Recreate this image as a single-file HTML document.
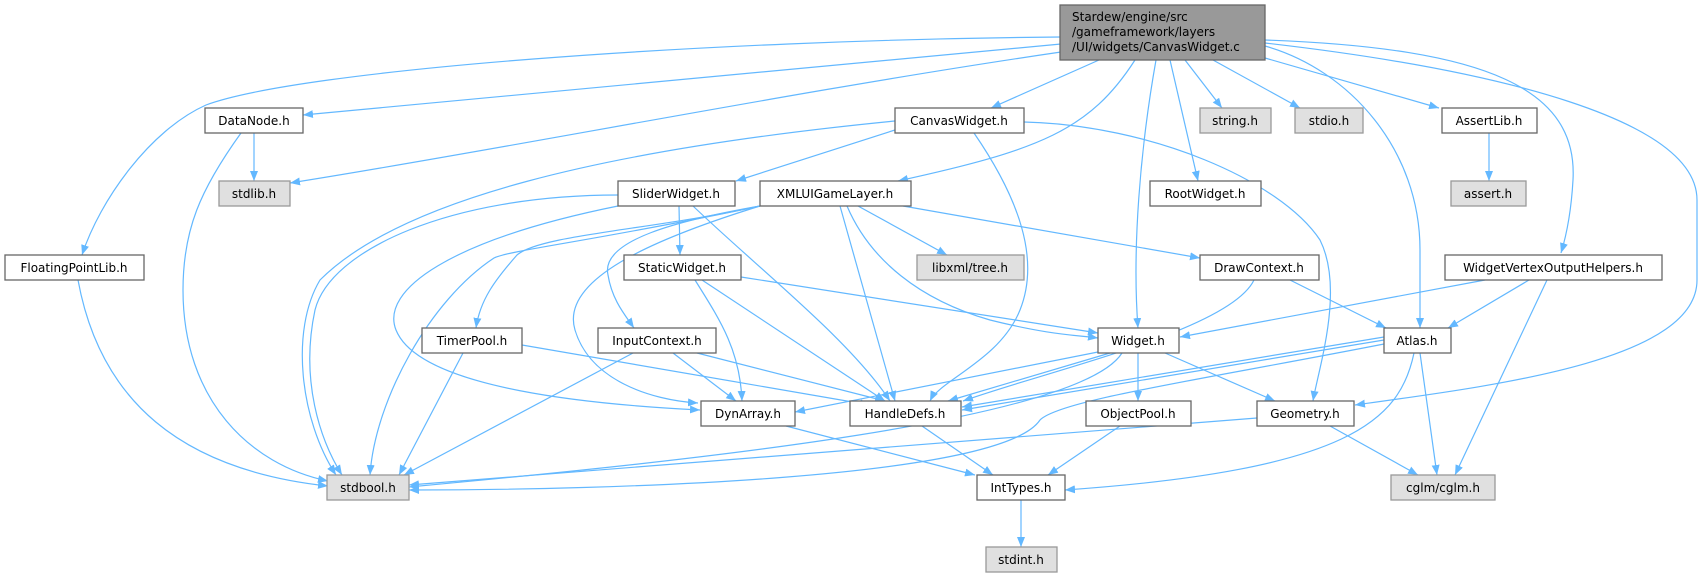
<!DOCTYPE html>
<html><head><meta charset="utf-8"><style>
html,body{margin:0;padding:0;background:#fff;width:1704px;height:579px;overflow:hidden}
svg{display:block}
text{font-family:"DejaVu Sans","Liberation Sans",sans-serif;font-size:12px;fill:#000}
.e{fill:none;stroke:#63b8ff;stroke-width:1.2;marker-end:url(#a)}
.n{fill:#fff;stroke:#666;stroke-width:1.3}
.g{fill:#e0e0e0;stroke:#999;stroke-width:1.3}
</style></head><body>
<svg width="1704" height="579" viewBox="0 0 1704 579" xmlns="http://www.w3.org/2000/svg">
<defs><marker id="a" markerUnits="userSpaceOnUse" markerWidth="11" markerHeight="9" refX="10" refY="4" orient="auto"><path d="M0,0 L10,4 L0,8 z" fill="#63b8ff"/></marker></defs>
<g>
<path class="e" d="M1061,37 C700,40 300,70 206,105 C150,130 100,200 82,255"/>
<path class="e" d="M1061,44 L303,115"/>
<path class="e" d="M1061,52 C800,90 500,150 290,183"/>
<path class="e" d="M1099,60 L991,108"/>
<path class="e" d="M1135,60 C1090,130 1040,150 898,181"/>
<path class="e" d="M1156,60 C1140,150 1132,250 1138,328"/>
<path class="e" d="M1170,60 L1198,181"/>
<path class="e" d="M1185,60 L1222,108"/>
<path class="e" d="M1213,60 L1300,108"/>
<path class="e" d="M1265,58 L1439,108"/>
<path class="e" d="M1265,46 C1350,70 1420,150 1420,250 L1420,328"/>
<path class="e" d="M1265,40 C1490,48 1578,90 1573,180 C1571,215 1565,240 1561,253"/>
<path class="e" d="M1265,43 C1500,70 1697,120 1697,200 L1697,280 C1697,360 1500,385 1355,405"/>
<path class="e" d="M1489,133 L1489,181"/>
<path class="e" d="M254,133 L254,181"/>
<path class="e" d="M241,133 C200,190 183,230 183,290 C183,400 250,465 328,481"/>
<path class="e" d="M78,280 C100,400 180,470 328,486"/>
<path class="e" d="M895,130 L736,181"/>
<path class="e" d="M895,121 C600,150 400,200 320,280 C290,330 300,420 336,475"/>
<path class="e" d="M974,133 C1020,200 1040,260 1020,310 C1000,360 940,380 930,401"/>
<path class="e" d="M1024,122 C1150,125 1280,180 1320,240 C1345,290 1318,370 1313,401"/>
<path class="e" d="M679,206 L680,255"/>
<path class="e" d="M618,195 C450,195 330,250 315,310 C300,380 320,440 342,475"/>
<path class="e" d="M618,206 C450,240 380,290 396,330 C420,390 600,405 700,410"/>
<path class="e" d="M693,206 C760,270 850,340 890,401"/>
<path class="e" d="M760,206 C650,230 540,235 517,255 C495,280 480,300 476,328"/>
<path class="e" d="M760,206 C680,220 600,240 608,275 C612,300 625,315 634,328"/>
<path class="e" d="M760,206 C600,240 510,250 494,258 C430,300 375,400 370,475"/>
<path class="e" d="M760,206 C650,240 560,280 575,330 C590,380 650,400 698,403"/>
<path class="e" d="M840,206 L895,401"/>
<path class="e" d="M847,206 C870,260 920,300 990,320 C1050,335 1075,335 1098,338"/>
<path class="e" d="M858,206 L947,255"/>
<path class="e" d="M903,206 L1200,258"/>
<path class="e" d="M741,277 L1098,333"/>
<path class="e" d="M695,280 C720,320 740,350 742,401"/>
<path class="e" d="M702,280 L885,401"/>
<path class="e" d="M1290,280 L1386,328"/>
<path class="e" d="M1254,280 C1230,330 1050,370 963,401"/>
<path class="e" d="M1485,280 L1180,337"/>
<path class="e" d="M1529,280 L1448,328"/>
<path class="e" d="M1547,280 L1455,475"/>
<path class="e" d="M463,353 L399,475"/>
<path class="e" d="M522,345 L870,405"/>
<path class="e" d="M633,353 L404,475"/>
<path class="e" d="M673,353 L736,401"/>
<path class="e" d="M697,353 L885,401"/>
<path class="e" d="M1098,352 L795,412"/>
<path class="e" d="M1110,353 L948,401"/>
<path class="e" d="M1122,353 C1080,420 700,460 409,487"/>
<path class="e" d="M1138,353 L1138,401"/>
<path class="e" d="M1165,353 L1275,401"/>
<path class="e" d="M1384,337 L962,407"/>
<path class="e" d="M1384,340 L962,410"/>
<path class="e" d="M1384,344 C1200,380 1060,400 1040,420 C1000,480 600,490 409,490"/>
<path class="e" d="M1414,353 C1400,420 1350,470 1065,490"/>
<path class="e" d="M1420,353 L1437,475"/>
<path class="e" d="M786,426 L975,475"/>
<path class="e" d="M922,426 L993,475"/>
<path class="e" d="M1120,426 L1048,475"/>
<path class="e" d="M1257,418 L409,485"/>
<path class="e" d="M1330,426 L1418,475"/>
<path class="e" d="M1021,500 L1021,547"/>
</g>
<rect x="1060" y="5" width="205" height="55" fill="#999" stroke="#666" stroke-width="1.3"/>
<text x="1072" y="21">Stardew/engine/src</text>
<text x="1072" y="36">/gameframework/layers</text>
<text x="1072" y="51">/UI/widgets/CanvasWidget.c</text>
<g text-anchor="middle">
<rect class="n" x="205" y="108" width="98" height="25"/><text x="254" y="125">DataNode.h</text>
<rect class="g" x="219" y="181" width="71" height="25"/><text x="254" y="198">stdlib.h</text>
<rect class="n" x="5" y="255" width="139" height="25"/><text x="74" y="272">FloatingPointLib.h</text>
<rect class="n" x="895" y="108" width="129" height="25"/><text x="959" y="125">CanvasWidget.h</text>
<rect class="g" x="1200" y="108" width="71" height="25"/><text x="1235" y="125">string.h</text>
<rect class="g" x="1295" y="108" width="68" height="25"/><text x="1329" y="125">stdio.h</text>
<rect class="n" x="1442" y="108" width="95" height="25"/><text x="1489" y="125">AssertLib.h</text>
<rect class="g" x="1451" y="181" width="75" height="25"/><text x="1488" y="198">assert.h</text>
<rect class="n" x="618" y="181" width="117" height="25"/><text x="676" y="198">SliderWidget.h</text>
<rect class="n" x="760" y="181" width="151" height="25"/><text x="835" y="198">XMLUIGameLayer.h</text>
<rect class="n" x="1150" y="181" width="111" height="25"/><text x="1205" y="198">RootWidget.h</text>
<rect class="n" x="624" y="255" width="117" height="25"/><text x="682" y="272">StaticWidget.h</text>
<rect class="g" x="917" y="255" width="107" height="25"/><text x="970" y="272">libxml/tree.h</text>
<rect class="n" x="1200" y="255" width="119" height="25"/><text x="1259" y="272">DrawContext.h</text>
<rect class="n" x="1445" y="255" width="217" height="25"/><text x="1553" y="272">WidgetVertexOutputHelpers.h</text>
<rect class="n" x="422" y="328" width="100" height="25"/><text x="472" y="345">TimerPool.h</text>
<rect class="n" x="598" y="328" width="118" height="25"/><text x="657" y="345">InputContext.h</text>
<rect class="n" x="1098" y="328" width="81" height="25"/><text x="1138" y="345">Widget.h</text>
<rect class="n" x="1384" y="328" width="67" height="25"/><text x="1417" y="345">Atlas.h</text>
<rect class="n" x="701" y="401" width="94" height="25"/><text x="748" y="418">DynArray.h</text>
<rect class="n" x="850" y="401" width="111" height="25"/><text x="905" y="418">HandleDefs.h</text>
<rect class="n" x="1086" y="401" width="105" height="25"/><text x="1138" y="418">ObjectPool.h</text>
<rect class="n" x="1257" y="401" width="97" height="25"/><text x="1305" y="418">Geometry.h</text>
<rect class="g" x="327" y="475" width="82" height="25"/><text x="368" y="492">stdbool.h</text>
<rect class="n" x="977" y="475" width="88" height="25"/><text x="1021" y="492">IntTypes.h</text>
<rect class="g" x="1391" y="475" width="104" height="25"/><text x="1443" y="492">cglm/cglm.h</text>
<rect class="g" x="986" y="547" width="71" height="25"/><text x="1021" y="564">stdint.h</text>
</g>
</svg>
</body></html>
